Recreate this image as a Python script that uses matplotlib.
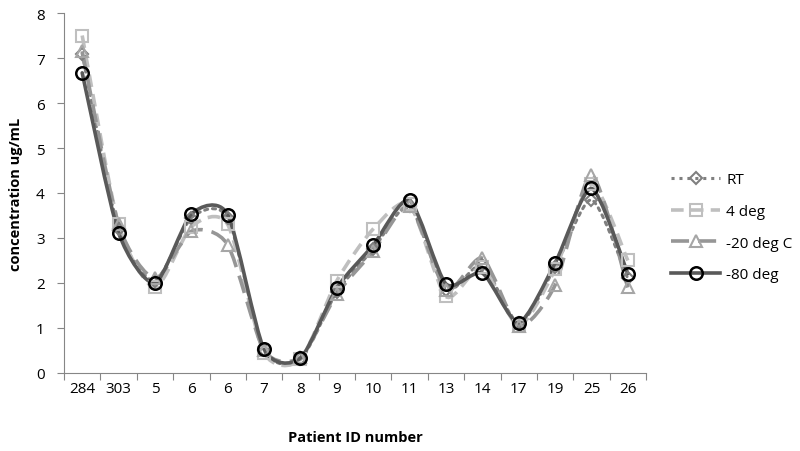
import numpy as np
import matplotlib.pyplot as plt
from matplotlib.path import Path
from matplotlib.patches import PathPatch
from matplotlib.lines import Line2D

plt.rcParams['font.family'] = ['Open Sans', 'DejaVu Sans']

patients = ["284", "303", "5", "6", "6", "7", "8", "9", "10", "11", "13", "14", "17", "19", "25", "26"]
rt = [7.1, 3.2, 2.05, 3.45, 3.45, 0.5, 0.3, 1.8, 2.75, 3.7, 1.85, 2.4, 1.1, 2.35, 3.85, 2.1]
deg4 = [7.5, 3.3, 1.9, 3.25, 3.3, 0.45, 0.3, 2.05, 3.2, 3.75, 1.7, 2.35, 1.05, 2.3, 4.2, 2.5]
deg20 = [7.15, 3.3, 2.1, 3.15, 2.85, 0.5, 0.35, 1.75, 2.7, 3.7, 1.85, 2.55, 1.05, 1.95, 4.4, 1.9]
deg80 = [6.67, 3.12, 2.0, 3.53, 3.52, 0.53, 0.33, 1.89, 2.84, 3.84, 1.98, 2.22, 1.12, 2.44, 4.1, 2.21]


def smooth_path(x, y, f=0.12):
    # smoothed line like Excel: cardinal spline segments as cubic Bezier
    pts = np.column_stack([x, y]).astype(float)
    n = len(pts)
    verts = [pts[0]]
    codes = [Path.MOVETO]
    for i in range(n - 1):
        p0 = pts[max(i - 1, 0)]
        p1 = pts[i]
        p2 = pts[i + 1]
        p3 = pts[min(i + 2, n - 1)]
        verts += [p1 + (p2 - p0) * f, p2 - (p3 - p1) * f, p2]
        codes += [Path.CURVE4] * 3
    return Path(verts, codes)


fig = plt.figure(figsize=(8, 4.52), dpi=100)
ax = fig.add_axes([0.08, 0.1726, 0.7275, 0.7964])

x = np.arange(len(patients))
series = [
    ("RT", rt, dict(color="#7f7f7f", ls=(0, (1, 1.6)), lw=2.2, capstyle="round"),
     dict(marker="D", ms=6, mfc="none", mec="#7f7f7f", mew=1.5)),
    ("4 deg", deg4, dict(color="#bfbfbf", ls=(0, (3.5, 2)), lw=2.6, capstyle="butt"),
     dict(marker="s", ms=8, mfc="none", mec="#bfbfbf", mew=1.5)),
    ("-20 deg C", deg20, dict(color="#969696", ls=(0, (5, 2.5)), lw=2.6, capstyle="butt"),
     dict(marker="^", ms=8, mfc="none", mec="#a6a6a6", mew=1.5)),
    ("-80 deg", deg80, dict(color="#595959", ls="-", lw=2.6, capstyle="round"),
     dict(marker="o", ms=9, mfc="none", mec="#000000", mew=1.8)),
]

handles = []
for name, vals, lstyle, mstyle in series:
    patch = PathPatch(smooth_path(x, vals), fill=False, edgecolor=lstyle["color"],
                      linestyle=lstyle["ls"], linewidth=lstyle["lw"],
                      capstyle=lstyle["capstyle"], zorder=2)
    ax.add_patch(patch)
    ax.plot(x, vals, ls="none", zorder=3, **mstyle)
    handles.append(Line2D([], [], color=lstyle["color"], ls=lstyle["ls"],
                          lw=lstyle["lw"], label=name, **mstyle))

ax.set_xlim(-0.5, len(patients) - 0.5)
ax.set_ylim(0, 8)
ax.set_yticks(range(0, 9))
ax.set_xticks(np.arange(-0.5, len(patients), 1.0))
ax.set_xticklabels([])
ax.set_xticks(x, minor=True)
ax.set_xticklabels(patients, minor=True)
ax.tick_params(axis="x", which="minor", length=0, pad=6, labelsize=11)
ax.tick_params(axis="x", which="major", length=5, color="#868686", direction="out")
ax.tick_params(axis="y", length=5, color="#868686", direction="out", labelsize=11, pad=9)

for side in ("top", "right"):
    ax.spines[side].set_visible(False)
for side in ("left", "bottom"):
    ax.spines[side].set_color("#868686")

ax.set_ylabel("concentration ug/mL", fontsize=10.5, fontweight="bold", labelpad=9)
ax.set_xlabel("Patient ID number", fontsize=10.5, fontweight="bold", labelpad=24)

fig.legend(handles=handles, loc="center left", bbox_to_anchor=(0.822, 0.495),
           frameon=False, fontsize=11, handlelength=3.2, labelspacing=1.1,
           handletextpad=0.4)

fig.savefig("out.png", dpi=100)
